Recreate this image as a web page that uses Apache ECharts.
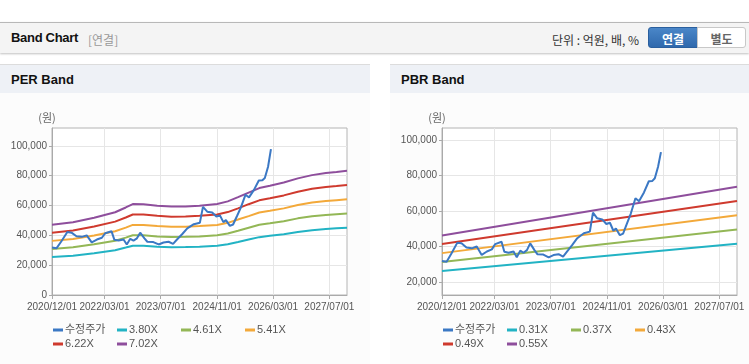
<!DOCTYPE html>
<html>
<head>
<meta charset="utf-8">
<script src="https://cdn.jsdelivr.net/npm/echarts@6/dist/echarts.min.js"></script>
<style>
  html, body { margin:0; padding:0; background:#fff; width:749px; height:364px; overflow:hidden;
    font-family: "Liberation Sans", "Noto Sans CJK KR", sans-serif; }
  #topbar { position:absolute; left:0; top:22px; width:749px; height:30px; background:#f4f4f4;
    border-top:1px solid #b8b8b8; box-shadow:0 1px 2px rgba(0,0,0,0.25); }
  #topbar .title { position:absolute; left:11px; top:7px; font-size:13px; font-weight:bold; color:#111; letter-spacing:-0.3px; }
  #topbar .sub { position:absolute; left:88px; top:8px; font-size:12px; color:#999; font-family:"Noto Sans CJK KR", sans-serif; }
  #topbar .unit { position:absolute; left:552px; top:8px; font-size:12px; color:#333; font-family:"Noto Sans CJK KR", sans-serif; }
  .btn { position:absolute; top:4px; height:21px; line-height:21px; text-align:center; font-size:12px; font-weight:bold;
    font-family:"Noto Sans CJK KR", sans-serif; box-sizing:border-box; }
  #b1 { left:648px; width:50px; background:linear-gradient(#4a86c8,#2f69ad); color:#fff; border:1px solid #2a5f9e; border-radius:3px 0 0 3px; }
  #b2 { left:697px; width:49px; background:#fff; color:#666; border:1px solid #c8c8c8; border-radius:0 3px 3px 0; }
  .panel { position:absolute; top:64px; height:299px; background:#fcfcfc; border-top:1px solid #dcdcdc; border-bottom:1px solid #d0d0d0; }
  .panel .hd { position:absolute; left:0; top:0; right:0; height:28px; background:#eef1f6; }
  .panel .hd span { position:absolute; left:11px; top:7px; font-size:13px; font-weight:bold; color:#111; }
  .chart { position:absolute; top:93px; height:270px; }
</style>
</head>
<body>
<div id="topbar">
  <div class="title">Band Chart</div>
  <div class="sub">[연결]</div>
  <div class="unit">단위 : 억원, 배, %</div>
  <div class="btn" id="b1">연결</div>
  <div class="btn" id="b2">별도</div>
</div>
<div class="panel" style="left:0;width:370px;"><div class="hd"><span>PER Band</span></div></div>
<div class="panel" style="left:390px;width:359px;"><div class="hd"><span>PBR Band</span></div></div>
<div class="chart" id="per" style="left:0;width:370px;"></div>
<div class="chart" id="pbr" style="left:390px;width:359px;"></div>
<script>
// ---------- data ----------
const xTickLabels = ['2020-12-01','2022-03-01','2023-07-01','2024-11-01','2026-03-01','2027-07-01'];
const xStart = '2020-12-01';
const xEnd = '2027-12-01';

const priceDates = ['2020-12-01','2020-12-13','2021-01-10','2021-02-22','2021-04-13','2021-05-19','2021-07-01','2021-08-16','2021-09-28','2021-11-10','2021-12-25','2022-02-06','2022-03-07','2022-05-01','2022-05-25','2022-07-01','2022-08-13','2022-09-10','2022-10-10','2022-11-07','2022-12-07','2023-01-04','2023-02-10','2023-03-07','2023-04-28','2023-06-13','2023-07-25','2023-09-07','2023-10-16','2023-11-19','2024-01-04','2024-02-16','2024-04-13','2024-06-04','2024-07-01','2024-08-07','2024-09-19','2024-10-25','2024-11-25','2024-12-25','2025-01-16','2025-02-19','2025-03-19','2025-04-22','2025-05-25','2025-07-04','2025-08-04','2025-09-16','2025-10-28','2025-11-28','2025-12-19','2026-01-16','2026-02-10'];
const perPrice = [31800,31800,31400,36200,42200,41800,39400,39000,40000,35300,37200,38400,41400,42700,37100,36500,37200,33900,37700,36500,38000,41800,38000,35700,35500,33900,35200,35700,34300,37200,40900,44700,47500,48400,59100,55900,55300,52700,53400,48900,50200,46400,47300,53000,58600,67200,65500,70500,76800,77000,78500,86000,97800];
const pbrPrice = [31800,31800,31400,36200,42200,41800,39400,39000,40000,35300,37200,38400,41400,42700,37100,36500,37200,33900,37700,36500,38000,41800,38000,35700,35500,33900,35200,35700,34300,37200,40900,44700,47500,48400,59100,55900,55300,52700,53400,48900,50200,46400,47300,53000,58600,67200,65500,70500,76800,77000,78500,85000,93200];

const perBandDates = ['2020-12-01','2021-06-01','2021-12-01','2022-06-01','2022-09-01','2022-11-01','2023-02-01','2023-06-01','2023-10-01','2024-02-01','2024-06-01','2024-11-01','2025-02-01','2025-05-01','2025-08-01','2025-11-01','2026-02-01','2026-06-01','2026-10-01','2027-02-01','2027-06-01','2027-09-01','2027-12-01'];
const per380 = [25500,26400,28000,30000,31800,33000,33000,32400,32100,32200,32400,33000,34000,35500,37200,38800,39700,40800,42300,43500,44300,44700,45100];
const per461 = [30900,32000,34000,36400,38500,40100,40000,39300,38900,39000,39300,40100,41200,43100,45100,47100,48100,49500,51400,52800,53700,54200,54700];
const per541 = [36300,37600,39900,42800,45200,47000,46900,46200,45700,45800,46200,47000,48400,50600,52900,55300,56500,58100,60300,62000,63000,63600,64200];
const per622 = [41700,43200,45900,49200,52000,54000,54000,53100,52500,52600,53100,54000,55600,58100,60900,63500,64900,66800,69300,71200,72500,73100,73800];
const per702 = [47100,48800,51800,55500,58700,61000,60900,59900,59300,59400,59900,61000,62800,65600,68700,71700,73300,75400,78200,80400,81800,82500,83300];

const pbrBandDates = ['2020-12-01','2027-12-01'];
const pbr031 = [26200,41600];
const pbr037 = [31300,49600];
const pbr043 = [36300,57600];
const pbr049 = [41400,65700];
const pbr055 = [46200,73700];

const perYTicks = [0,20000,40000,60000,80000,100000];
const pbrYTicks = [20000,40000,60000,80000,100000];

const perNames = ['수정주가','3.80X','4.61X','5.41X','6.22X','7.02X'];
const pbrNames = ['수정주가','0.31X','0.37X','0.43X','0.49X','0.55X'];
const colors = ['#3b78c4','#22b3c4','#93b756','#f3a93a','#cf3a2e','#8e4e9c'];

// ---------- build ----------
const ts = s => { const p = s.split('-').map(Number); return Date.UTC(p[0], p[1] - 1, p[2]); };
const pairs = (d, v) => d.map((x, i) => [ts(x), v[i]]);
const fmtNum = v => String(v).replace(/\B(?=(\d{3})+(?!\d))/g, ',');
const pad = n => (n < 10 ? '0' : '') + n;
const fmtDate = v => { const d = new Date(v); return d.getUTCFullYear() + '/' + pad(d.getUTCMonth() + 1) + '/' + pad(d.getUTCDate()); };
const FONT = '"Liberation Sans", "Noto Sans CJK KR", sans-serif';

function makeOption(names, seriesData, yMin, yMax, yTicks) {
  const xTicks = xTickLabels.map(ts);
  return {
    animation: false,
    color: colors,
    textStyle: { fontFamily: FONT },
    grid: { left: 52, top: 35, width: 295, height: 167, show: true, borderColor: '#b4b4b4', borderWidth: 1, backgroundColor: '#fff' },
    legend: {
      left: 53, top: 230, width: 262, padding: 0, itemGap: 0, itemWidth: 10, itemHeight: 3,
      icon: 'rect', orient: 'horizontal',
      data: names,
      textStyle: { fontSize: 11, color: '#555', width: 52, lineHeight: 14, padding: [0,0,0,-3], fontFamily: FONT }
    },
    xAxis: {
      type: 'value', min: ts(xStart), max: ts(xEnd),
      axisLine: { lineStyle: { color: '#aaa' } },
      axisTick: { show: true, length: 4, lineStyle: { color: '#aaa' }, customValues: xTicks },
      axisLabel: { customValues: xTicks, formatter: fmtDate, color: '#555', fontSize: 10, margin: 7,
        width: 44, overflow: 'none', hideOverlap: false, showMinLabel: true, showMaxLabel: true },
      splitLine: { show: true, lineStyle: { color: '#e6e6e6' } }
    },
    yAxis: {
      type: 'value', min: yMin, max: yMax,
      name: '(원)', nameLocation: 'end', nameGap: 5,
      nameTextStyle: { color: '#666', fontSize: 11, align: 'center', padding: [0, 10, 0, 0], fontFamily: '"Noto Sans CJK KR", sans-serif' },
      axisLine: { show: true, lineStyle: { color: '#aaa' } },
      axisTick: { show: true, length: 3, lineStyle: { color: '#aaa' }, customValues: yTicks },
      axisLabel: { customValues: yTicks, formatter: fmtNum, color: '#555', fontSize: 10, margin: 5 },
      splitLine: { show: true, lineStyle: { color: '#e6e6e6' } }
    },
    series: seriesData.map((d, i) => ({
      name: names[i], type: 'line', data: d, showSymbol: false, symbol: 'none',
      lineStyle: { width: 2, color: colors[i] }, z: i === 0 ? 10 : 2
    }))
  };
}

const perChart = echarts.init(document.getElementById('per'), null, { renderer: 'canvas' });
perChart.setOption(makeOption(perNames, [
  pairs(priceDates, perPrice),
  pairs(perBandDates, per380),
  pairs(perBandDates, per461),
  pairs(perBandDates, per541),
  pairs(perBandDates, per622),
  pairs(perBandDates, per702)
], 0, 112000, perYTicks));

const pbrChart = echarts.init(document.getElementById('pbr'), null, { renderer: 'canvas' });
pbrChart.setOption(makeOption(pbrNames, [
  pairs(priceDates, pbrPrice),
  pairs(pbrBandDates, pbr031),
  pairs(pbrBandDates, pbr037),
  pairs(pbrBandDates, pbr043),
  pairs(pbrBandDates, pbr049),
  pairs(pbrBandDates, pbr055)
], 12700, 106800, pbrYTicks));
</script>
</body>
</html>
